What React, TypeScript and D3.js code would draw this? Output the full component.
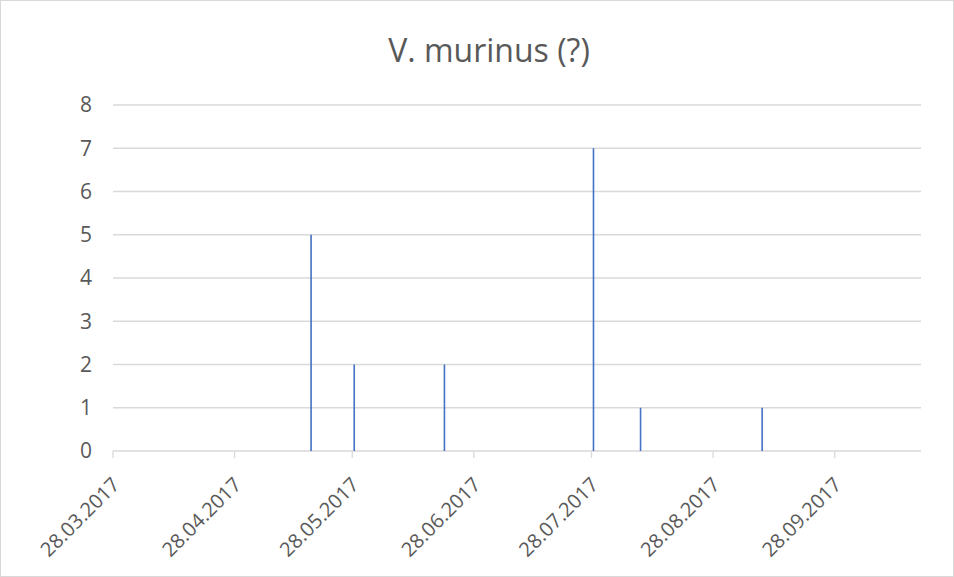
import React, { useEffect, useRef } from 'react';
import * as d3 from 'd3';

const title = 'V. murinus (?)';
const dates = ['17.05.2017', '28.05.2017', '20.06.2017', '28.07.2017', '09.08.2017', '09.09.2017'];
const counts = [5, 2, 2, 7, 1, 1];
const tickLabels = ['28.03.2017', '28.04.2017', '28.05.2017', '28.06.2017', '28.07.2017', '28.08.2017', '28.09.2017'];
const xMaxLabel = '20.10.2017';
const yTicks = [0, 1, 2, 3, 4, 5, 6, 7, 8];

const App = () => {
  const svgRef = useRef<SVGSVGElement>(null);

  useEffect(() => {
    const svg = d3.select(svgRef.current);
    svg.selectAll('*').remove();

    const width = 954, height = 577;
    const left = 113, right = 921, top = 105, bottom = 451;
    const parse = d3.timeParse('%d.%m.%Y');
    const font = '"Open Sans", sans-serif';
    const textColor = '#595959';

    svg.append('rect')
      .attr('x', 0.5).attr('y', 0.5)
      .attr('width', width - 1).attr('height', height - 1)
      .attr('fill', '#fff').attr('stroke', '#d9d9d9');

    const x = d3.scaleTime()
      .domain([parse(tickLabels[0])!, parse(xMaxLabel)!])
      .range([left, right]);
    const y = d3.scaleLinear().domain([0, 8]).range([bottom, top]);
    const dayW = x(parse('29.03.2017')!) - x(parse('28.03.2017')!);

    // title
    svg.append('text')
      .attr('x', 489).attr('y', 62)
      .attr('text-anchor', 'middle')
      .attr('font-family', font).attr('font-size', 32)
      .attr('fill', textColor)
      .text(title);

    // gridlines
    svg.append('g').selectAll('line')
      .data(yTicks.slice(1))
      .enter().append('line')
      .attr('x1', left).attr('x2', right)
      .attr('y1', d => y(d)).attr('y2', d => y(d))
      .attr('stroke', '#d9d9d9').attr('stroke-width', 1.3);

    // y labels
    svg.append('g').selectAll('text')
      .data(yTicks)
      .enter().append('text')
      .attr('x', 92).attr('y', d => y(d))
      .attr('dy', '0.35em')
      .attr('text-anchor', 'end')
      .attr('font-family', font).attr('font-size', 21)
      .attr('fill', textColor)
      .text(d => d);

    // x axis
    svg.append('line')
      .attr('x1', left).attr('x2', right)
      .attr('y1', bottom).attr('y2', bottom)
      .attr('stroke', '#d9d9d9').attr('stroke-width', 1.3);

    const tickDates = tickLabels.map(s => parse(s)!);
    svg.append('g').selectAll('line')
      .data(tickDates)
      .enter().append('line')
      .attr('x1', d => x(d)).attr('x2', d => x(d))
      .attr('y1', bottom).attr('y2', bottom + 7)
      .attr('stroke', '#d9d9d9').attr('stroke-width', 1.3);

    svg.append('g').selectAll('text')
      .data(tickLabels)
      .enter().append('text')
      .attr('transform', d => `translate(${x(parse(d)!) + 3}, ${bottom + 30}) rotate(-45)`)
      .attr('text-anchor', 'end')
      .attr('dy', '0.35em')
      .attr('font-family', font).attr('font-size', 20)
      .attr('fill', textColor)
      .text(d => d);

    // columns
    const barW = 1.6;
    svg.append('g').selectAll('rect')
      .data(dates.map((d, i) => ({ date: parse(d)!, value: counts[i] })))
      .enter().append('rect')
      .attr('x', d => x(d.date) + dayW / 2 - barW / 2)
      .attr('y', d => y(d.value))
      .attr('width', barW)
      .attr('height', d => y(0) - y(d.value))
      .attr('fill', '#4472C4');
  }, []);

  return (
    <div style={{ position: 'absolute', left: 0, top: 0, width: '954px', height: '577px' }}>
      <svg ref={svgRef} width={954} height={577} style={{ display: 'block' }}></svg>
    </div>
  );
};

export default App;
